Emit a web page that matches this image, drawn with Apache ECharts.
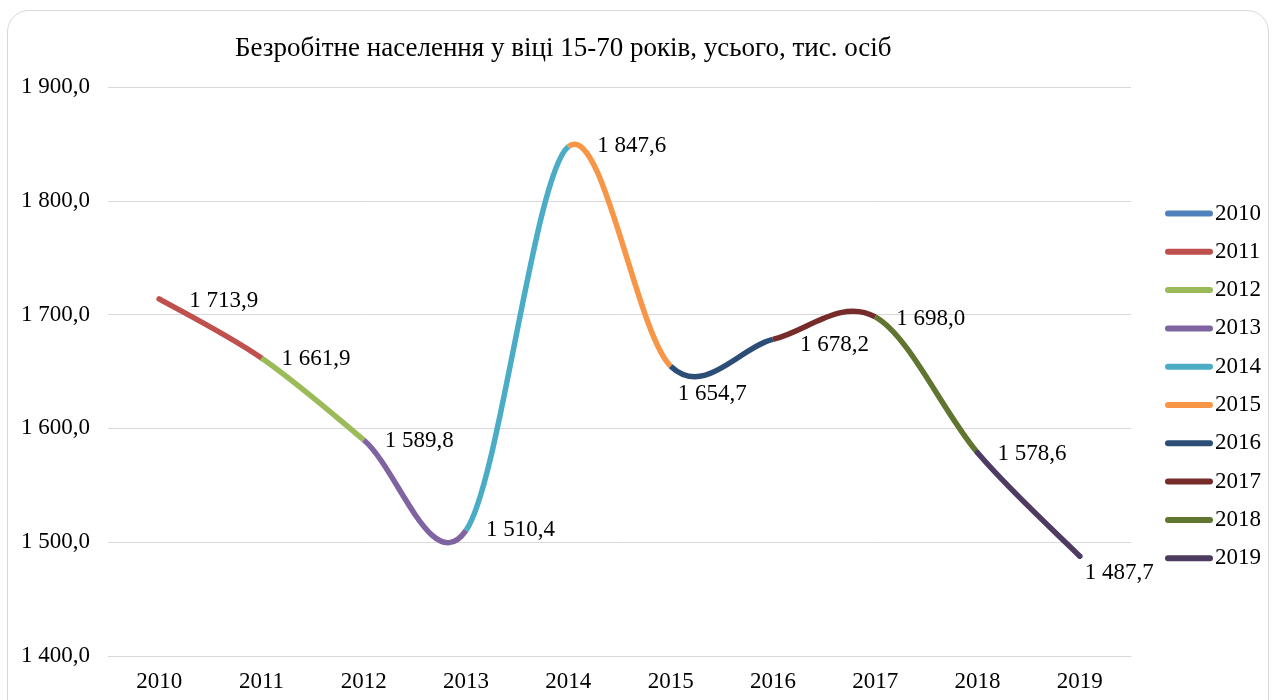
<!DOCTYPE html>
<html>
<head>
<meta charset="utf-8">
<script src="https://cdn.jsdelivr.net/npm/echarts@6/dist/echarts.min.js"></script>
<style>
  html, body { margin: 0; padding: 0; background: #fff; }
  #frame {
    position: absolute; left: 7px; top: 10px; width: 1262px; height: 720px;
    border: 1px solid #d9d9d9; border-radius: 22px; box-sizing: border-box;
  }
  #chart { position: absolute; left: 0; top: 0; width: 1277px; height: 700px; }
</style>
</head>
<body>
<div id="frame"></div>
<div id="chart"></div>
<script>
const years = ['2010', '2011', '2012', '2013', '2014', '2015', '2016', '2017', '2018', '2019'];
const unemployed = [1713.9, 1661.9, 1589.8, 1510.4, 1847.6, 1654.7, 1678.2, 1698.0, 1578.6, 1487.7];
const yearColors = ['#4F81BD', '#C0504D', '#9BBB59', '#8064A2', '#4BACC6',
                    '#F79646', '#2C4D75', '#772C2A', '#5F7530', '#4D3B62'];

const serif = '"Liberation Serif", "DejaVu Serif", serif';

// where each value label sits, relative to its point (px)
const labelOffsets = [[30, 2], [20, 1], [21, 1], [20, 0], [29, -1],
                      [7, 28], [27, 6], [21, 2], [20, 1], [5, 17]];

function fmt(v) {
    let s = v.toFixed(1).split('.');
    let int = s[0].replace(/\B(?=(\d{3})+(?!\d))/g, ' ');
    return int + ',' + s[1];
}

// excel-style smoothed segment (catmull-rom as bezier), drawn through the axes
function renderSegment(params, api) {
    let i = params.dataIndex;
    let n = unemployed.length;
    let pt = k => api.coord([Math.max(0, Math.min(n - 1, k)), unemployed[Math.max(0, Math.min(n - 1, k))]]);
    let children = [];
    let p = pt(i);
    if (i > 0) {
        let p0 = pt(i - 2), p1 = pt(i - 1), p3 = pt(i + 1);
        let t = 1 / 6;
        children.push({
            type: 'bezierCurve',
            shape: {
                x1: p1[0], y1: p1[1],
                cpx1: p1[0] + (p[0] - p0[0]) * t, cpy1: p1[1] + (p[1] - p0[1]) * t,
                cpx2: p[0] - (p3[0] - p1[0]) * t, cpy2: p[1] - (p3[1] - p1[1]) * t,
                x2: p[0], y2: p[1]
            },
            style: {
                fill: null,
                stroke: yearColors[i],
                lineWidth: 5.5,
                lineCap: (i === 1 || i === n - 1) ? 'round' : 'butt'
            }
        });
    }
    let off = labelOffsets[i];
    children.push({
        type: 'text',
        z2: 10,
        x: p[0] + off[0],
        y: p[1] + off[1],
        style: {
            text: fmt(unemployed[i]),
            font: '23px ' + serif,
            fill: '#000',
            align: 'left',
            verticalAlign: 'middle'
        }
    });
    return { type: 'group', children: children };
}

let legendSeries = years.map((y, i) => ({
    name: y,
    type: 'line',
    data: [],
    color: yearColors[i],
    showSymbol: false
}));

let myChart = echarts.init(document.getElementById('chart'));
let option = {
    animation: false,
    title: {
        text: 'Безробітне населення у віці 15-70 років, усього, тис. осіб',
        left: 230,
        top: 30,
        textStyle: { fontFamily: serif, fontSize: 27, fontWeight: 'normal', color: '#000' }
    },
    legend: {
        orient: 'vertical',
        left: 1165,
        top: 202,
        padding: 0,
        itemWidth: 48,
        itemHeight: 6,
        itemGap: 15.3,
        icon: 'path://M3,0 H45 A3,3 0 0 1 45,6 H3 A3,3 0 0 1 3,0 Z',
        data: years,
        textStyle: { fontFamily: serif, fontSize: 23, color: '#000', padding: [0, 0, 0, -3] }
    },
    grid: { left: 108, right: 146, top: 87, bottom: 44 },
    xAxis: {
        type: 'category',
        data: years,
        axisLine: { lineStyle: { color: '#d9d9d9' } },
        axisTick: { show: false },
        axisLabel: { fontFamily: serif, fontSize: 23, color: '#000', margin: 14 }
    },
    yAxis: {
        type: 'value',
        min: 1400,
        max: 1900,
        interval: 100,
        axisLabel: { fontFamily: serif, fontSize: 23, color: '#000', margin: 18, formatter: fmt },
        splitLine: { lineStyle: { color: '#d9d9d9' } }
    },
    series: [{
        name: 'line',
        type: 'custom',
        clip: false,
        renderItem: renderSegment,
        encode: { x: 0, y: 1 },
        data: unemployed.map((v, i) => [i, v])
    }].concat(legendSeries)
};
myChart.setOption(option);
</script>
</body>
</html>
